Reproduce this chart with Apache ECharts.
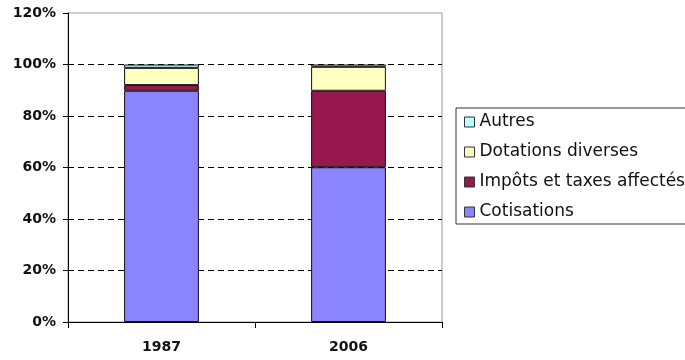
<!DOCTYPE html>
<html>
<head>
<meta charset="utf-8">
<script src="https://cdn.jsdelivr.net/npm/echarts@6/dist/echarts.min.js"></script>
<style>
  html, body { margin: 0; padding: 0; background: #fff; }
  #chart { width: 685px; height: 360px; }
</style>
</head>
<body>
<div id="chart"></div>
<script>
// categories (years)
const years = ['1987', '2006'];

// shares in % (stacked bottom -> top)
const cotisations = [89.8, 60.1];
const impots = [2.2, 29.7];
const dotations = [6.7, 9.3];
const autres = [1.3, 0.9];

const yTicks = [0, 20, 40, 60, 80, 100, 120];

const chart = echarts.init(document.getElementById('chart'), null, { renderer: 'canvas' });

function bar(name, data, color) {
  return {
    name: name,
    type: 'bar',
    stack: 'total',
    barWidth: '40%',
    data: data,
    itemStyle: { color: color, borderColor: '#111', borderWidth: 1 }
  };
}

const option = {
  animation: false,
  backgroundColor: '#fff',
  textStyle: { fontFamily: 'DejaVu Sans' },
  grid: {
    left: 68, right: 243, top: 13, bottom: 38,
    show: true, borderColor: '#999', borderWidth: 1, backgroundColor: 'transparent'
  },
  legend: {
    orient: 'vertical',
    left: 456, top: 108,
    data: ['Autres', 'Dotations diverses', 'Impôts et taxes affectés', 'Cotisations'],
    itemWidth: 10, itemHeight: 10, itemGap: 12,
    padding: [5, 40, 3, 8],
    borderColor: '#333', borderWidth: 1,
    icon: 'rect',
    itemStyle: { borderColor: '#333', borderWidth: 1 },
    textStyle: { fontFamily: 'DejaVu Sans', fontSize: 17, lineHeight: 18, color: '#111' }
  },
  xAxis: {
    type: 'category',
    data: years,
    axisLine: { lineStyle: { color: '#000', width: 1 } },
    axisTick: { show: true, length: 6, lineStyle: { color: '#000' } },
    axisLabel: { margin: 18, fontFamily: 'DejaVu Sans', fontWeight: 'bold', fontSize: 14, color: '#111' }
  },
  yAxis: {
    type: 'value',
    min: yTicks[0], max: yTicks[yTicks.length - 1], interval: 20,
    axisLine: { show: true, lineStyle: { color: '#000', width: 1 } },
    axisTick: { show: true, length: 5, lineStyle: { color: '#000' } },
    axisLabel: { margin: 12, formatter: '{value}%', fontFamily: 'DejaVu Sans', fontWeight: 'bold', fontSize: 14, color: '#111' },
    splitLine: { show: true, showMinLine: false, showMaxLine: false, lineStyle: { color: '#000', type: [6, 4], width: 1 } }
  },
  series: [
    bar('Cotisations', cotisations, '#8a84ff'),
    bar('Impôts et taxes affectés', impots, '#99174f'),
    bar('Dotations diverses', dotations, '#ffffc0'),
    bar('Autres', autres, '#b8ffff')
  ]
};

chart.setOption(option);
</script>
</body>
</html>
